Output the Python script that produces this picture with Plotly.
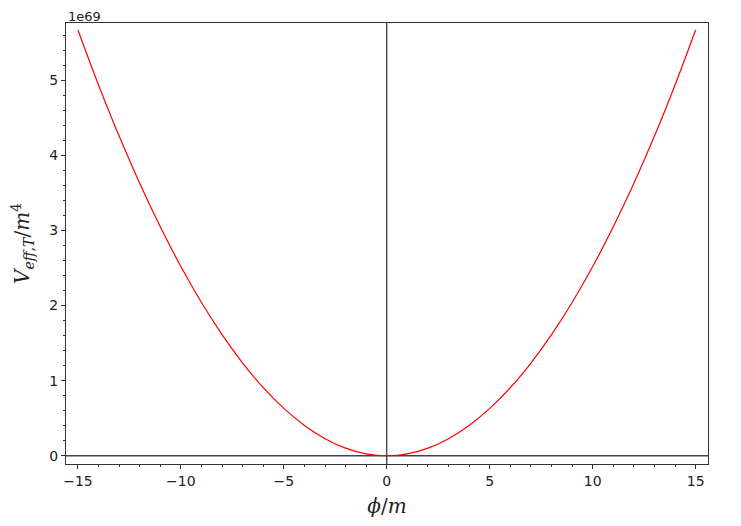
import plotly.graph_objects as go

# phi/m values and V_eff,T/m^4 values (in units of 1e69)
phi = [-15, -14, -13, -12, -11, -10, -9, -8, -7, -6, -5, -4, -3, -2, -1, 0,
       1, 2, 3, 4, 5, 6, 7, 8, 9, 10, 11, 12, 13, 14, 15]
v_eff = [5.666, 4.935, 4.255, 3.626, 3.047, 2.518, 2.040, 1.612, 1.234, 0.906,
         0.630, 0.403, 0.227, 0.101, 0.025, 0.0,
         0.025, 0.101, 0.227, 0.403, 0.630, 0.906, 1.234, 1.612, 2.040, 2.518,
         3.047, 3.626, 4.255, 4.935, 5.666]
x_ticks = [-15, -10, -5, 0, 5, 10, 15]
x_tick_text = ["\u221215", "\u221210", "\u22125", "0", "5", "10", "15"]
y_ticks = [0, 1, 2, 3, 4, 5]
y_tick_text = ["0", "1", "2", "3", "4", "5"]
offset_text = "1e69"

fig = go.Figure()
fig.add_trace(go.Scatter(x=phi, y=v_eff, mode="lines",
                         line=dict(color="#ff0000", width=1.2, shape="spline", smoothing=1.0),
                         hoverinfo="skip", showlegend=False))

tickfont = dict(family="DejaVu Sans", size=14, color="#222")
fig.update_xaxes(range=[-15.58, 15.6], tickvals=x_ticks, ticktext=x_tick_text,
                 ticks="outside", ticklen=4, tickwidth=1, tickcolor="#333",
                 minor=dict(dtick=1, ticks="outside", ticklen=2, tickcolor="#333", showgrid=False),
                 showgrid=False, zeroline=False, showline=True, linecolor="#333",
                 linewidth=1, mirror=True, tickfont=tickfont,
                 title=dict(text="<i>\u03d5</i>/<i>m</i>", font=dict(family="DejaVu Serif", size=20, color="#222"), standoff=11))
fig.update_yaxes(range=[-0.11, 5.76], tickvals=y_ticks, ticktext=y_tick_text,
                 ticks="outside", ticklen=4, tickwidth=1, tickcolor="#333",
                 minor=dict(dtick=0.2, ticks="outside", ticklen=2, tickcolor="#333", showgrid=False),
                 showgrid=False, zeroline=False, showline=True, linecolor="#333",
                 linewidth=1, mirror=True, tickfont=tickfont,
                 title=dict(text="<i>V</i><sub><i>eff,T</i></sub>/<i>m</i><sup>4</sup>",
                            font=dict(family="DejaVu Serif", size=20, color="#222"), standoff=15))

# axis lines through origin
fig.add_shape(type="line", xref="paper", x0=0, x1=1, yref="y", y0=0, y1=0,
              line=dict(color="#444", width=1.3), layer="below")
fig.add_shape(type="line", xref="x", x0=0, x1=0, yref="paper", y0=0, y1=1,
              line=dict(color="#000", width=1), layer="below")

fig.add_annotation(text=offset_text, xref="paper", yref="paper", x=0, y=1,
                   xanchor="left", yanchor="bottom", showarrow=False, yshift=-3,
                   font=dict(family="DejaVu Sans", size=13, color="#222"))

# page body has an 8px margin, so the figure is 8px smaller on each axis
fig.update_layout(width=733, height=518, margin=dict(l=55, r=33, t=15, b=60),
                  plot_bgcolor="white", paper_bgcolor="white")
fig.write_html("out.html")
